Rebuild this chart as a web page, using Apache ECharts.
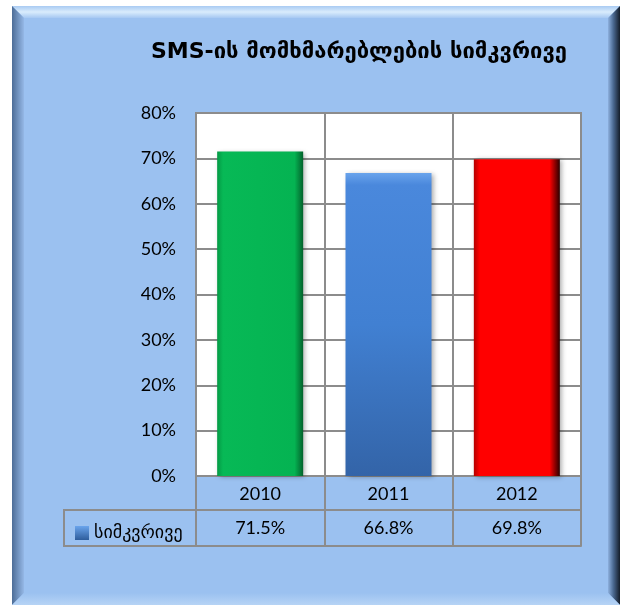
<!DOCTYPE html>
<html>
<head>
<meta charset="utf-8">
<script src="https://cdn.jsdelivr.net/npm/echarts@6/dist/echarts.min.js"></script>
<style>
  html, body { margin: 0; padding: 0; background: #fff; }
  #chart { width: 622px; height: 605px; }
</style>
</head>
<body>
<div id="chart"></div>
<script>
const titleText = 'SMS-ის მომხმარებლების სიმკვრივე';
const seriesName = 'სიმკვრივე';
const years = ['2010', '2011', '2012'];
const density = [71.5, 66.8, 69.8];
const yTicks = { min: 0, max: 80, interval: 10 };

const gridGray = '#8c8c8c';
const georgian = '"DejaVu Sans", "Noto Sans", sans-serif';
const latin = 'Lato, "DejaVu Sans", sans-serif';

const lin = (x0, y0, x1, y1, stops) => new echarts.graphic.LinearGradient(x0, y0, x1, y1,
  stops.map(s => ({ offset: s[0], color: s[1] })));

// bar fills, faked bevel with gradients
const barFills = [
  lin(0, 0, 1, 0, [[0, '#049a45'], [0.07, '#07b956'], [0.9, '#05b352'], [1, '#03622c']]),
  lin(0, 0, 0, 1, [[0, '#6aa4ec'], [0.04, '#4a88dc'], [0.5, '#4180d2'], [1, '#3364a8']]),
  lin(0, 0, 1, 0, [[0, '#b40000'], [0.07, '#ff0000'], [0.88, '#ff0000'], [1, '#2a0000']])
];
const legendFill = lin(0, 0, 0, 1, [[0, '#6aa4ec'], [1, '#2e5d9c']]);

const myChart = echarts.init(document.getElementById('chart'));

// frame with bevel edges
const X0 = 12, Y0 = 6, X1 = 620, Y1 = 605, B = 12;
const frame = [
  { type: 'rect', z: -20, shape: { x: X0, y: Y0, width: X1 - X0, height: Y1 - Y0 }, style: { fill: '#9bc1f0' } },
  { type: 'polygon', z: -19, shape: { points: [[X0, Y0], [X1, Y0], [X1 - B, Y0 + B], [X0 + B, Y0 + B]] },
    style: { fill: lin(0, 0, 0, 1, [[0, '#a9cbf3'], [0.5, '#d9ecfc'], [1, '#a6c8f2']]) } },
  { type: 'polygon', z: -19, shape: { points: [[X0, Y0], [X0 + B, Y0 + B], [X0 + B, Y1 - B], [X0, Y1]] },
    style: { fill: lin(0, 0, 1, 0, [[0, '#4d6d97'], [1, '#95b8e6']]) } },
  { type: 'polygon', z: -19, shape: { points: [[X1, Y0], [X1, Y1], [X1 - B, Y1 - B], [X1 - B, Y0 + B]] },
    style: { fill: lin(0, 0, 1, 0, [[0, '#8eb1df'], [0.45, '#4a6890'], [1, '#141c28']]) } },
  { type: 'polygon', z: -19, shape: { points: [[X0, Y1], [X0 + B, Y1 - B], [X1 - B, Y1 - B], [X1, Y1]] },
    style: { fill: lin(0, 0, 0, 1, [[0, '#9bc1f0'], [1, '#b6d3f5']]) } },
  // legend cell of the data table
  { type: 'rect', z: 10, shape: { x: 64, y: 510, width: 132, height: 36 },
    style: { fill: 'none', stroke: gridGray, lineWidth: 2 } }
];

const option = {
  backgroundColor: '#fff',
  animation: false,
  graphic: frame,
  title: {
    text: titleText,
    left: 146,
    top: 36,
    textStyle: { fontFamily: georgian, fontWeight: 'bold', fontSize: 22, color: '#000' }
  },
  legend: {
    data: [seriesName],
    left: 70,
    top: 519,
    icon: 'rect',
    itemWidth: 14,
    itemHeight: 14,
    itemGap: 2,
    textStyle: { fontFamily: georgian, fontSize: 18, color: '#000' }
  },
  grid: {
    left: 196, right: 41, top: 113, bottom: 129,
    show: true, backgroundColor: '#fff', borderColor: gridGray, borderWidth: 2
  },
  xAxis: [
    {
      type: 'category',
      data: years,
      position: 'bottom',
      axisLine: { show: true, lineStyle: { color: gridGray, width: 2 } },
      axisTick: { show: true, length: 70, interval: 0, lineStyle: { color: gridGray, width: 2 } },
      splitLine: { show: true, interval: 0, lineStyle: { color: gridGray, width: 2 } },
      axisLabel: { margin: 9, fontFamily: latin, fontSize: 18, color: '#000' }
    },
    {
      type: 'category',
      data: years,
      position: 'bottom',
      offset: 34,
      axisLine: { show: true, lineStyle: { color: gridGray, width: 2 } },
      axisTick: { show: false },
      axisLabel: {
        margin: 9, fontFamily: latin, fontSize: 18, color: '#000',
        formatter: (v, i) => density[i].toFixed(1) + '%'
      }
    },
    {
      type: 'category',
      data: years,
      position: 'bottom',
      offset: 70,
      axisLine: { show: true, lineStyle: { color: gridGray, width: 2 } },
      axisTick: { show: false },
      axisLabel: { show: false }
    }
  ],
  yAxis: {
    type: 'value',
    min: yTicks.min,
    max: yTicks.max,
    interval: yTicks.interval,
    axisLine: { show: false },
    axisTick: { show: false },
    splitLine: { lineStyle: { color: gridGray, width: 2 } },
    axisLabel: { margin: 20, fontFamily: latin, fontSize: 18, color: '#000', formatter: '{value}%' }
  },
  series: [{
    name: seriesName,
    type: 'bar',
    xAxisIndex: 0,
    barWidth: 86,
    itemStyle: { color: legendFill },
    data: density.map((v, i) => ({
      value: v,
      itemStyle: {
        color: barFills[i],
        shadowBlur: 5, shadowColor: 'rgba(0,0,0,0.35)', shadowOffsetX: 2, shadowOffsetY: 1
      }
    }))
  }]
};

myChart.setOption(option);
</script>
</body>
</html>
